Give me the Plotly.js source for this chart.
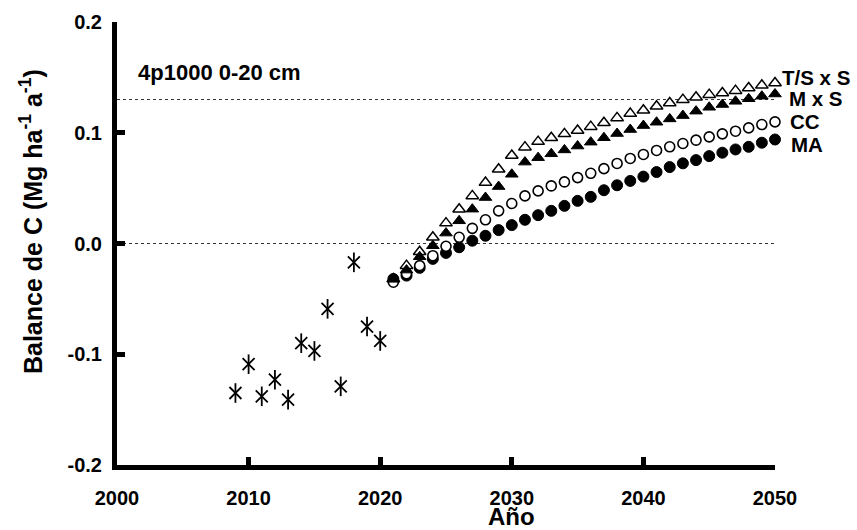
<!DOCTYPE html>
<html>
<head>
<meta charset="utf-8">
<script src="https://cdn.plot.ly/plotly-3.0.1.min.js"></script>
<style>
  html, body { margin: 0; padding: 0; background: #ffffff; }
  #chart { width: 857px; height: 530px; }
</style>
</head>
<body>
<div id="chart"></div>
<script>
// Observed carbon balance (Mg ha-1 a-1), 2009-2020
const obsYears = [2009, 2010, 2011, 2012, 2013, 2014, 2015, 2016, 2017, 2018, 2019, 2020];
const obsBalance = [-0.135, -0.109, -0.138, -0.123, -0.141, -0.090, -0.097, -0.059, -0.129, -0.017, -0.075, -0.088];

// Projection years
const projYears = [2021, 2022, 2023, 2024, 2025, 2026, 2027, 2028, 2029, 2030,
                   2031, 2032, 2033, 2034, 2035, 2036, 2037, 2038, 2039, 2040,
                   2041, 2042, 2043, 2044, 2045, 2046, 2047, 2048, 2049, 2050];

// Projected balance per management scenario
const tsXs = [-0.032, -0.020, -0.0074, 0.0056, 0.0184, 0.031, 0.043, 0.055, 0.067, 0.0795,
              0.087, 0.092, 0.0955, 0.099, 0.102, 0.1055, 0.109, 0.1134, 0.1173, 0.1203,
              0.1239, 0.1269, 0.1299, 0.132, 0.1344, 0.1359, 0.138, 0.1404, 0.1428, 0.1449];
const mXs = [-0.032, -0.024, -0.012, -0.002, 0.0094, 0.0205, 0.031, 0.0415, 0.0514, 0.0625,
             0.0735, 0.0775, 0.081, 0.0845, 0.088, 0.0915, 0.0955, 0.0993, 0.1029, 0.1065,
             0.1095, 0.1125, 0.1155, 0.1195, 0.123, 0.1255, 0.1284, 0.1307, 0.133, 0.135];
const cc = [-0.035, -0.0274, -0.020, -0.011, -0.0025, 0.0056, 0.0137, 0.0214, 0.0295, 0.0361,
            0.043, 0.0475, 0.052, 0.0556, 0.0595, 0.0634, 0.0676, 0.0723, 0.0768, 0.0804,
            0.084, 0.0873, 0.0903, 0.0933, 0.0963, 0.099, 0.1014, 0.1044, 0.1074, 0.1098];
const ma = [-0.032, -0.029, -0.022, -0.0139, -0.0085, -0.0034, 0.0025, 0.007, 0.0121, 0.0166,
            0.0214, 0.0256, 0.0295, 0.034, 0.0385, 0.0421, 0.0481, 0.0526, 0.0565, 0.0604,
            0.0645, 0.069, 0.0724, 0.0753, 0.0789, 0.082, 0.0849, 0.0873, 0.091, 0.0939];

const scenarioNames = ['T/S x S', 'M x S', 'CC', 'MA'];

// Reference levels
const target4p1000 = 0.13;
const targetLabel = '4p1000 0-20 cm';

const xTicks = [2000, 2010, 2020, 2030, 2040, 2050];
const yTicks = [-0.2, -0.1, 0.0, 0.1, 0.2];
const yTickText = ['-0.2', '-0.1', '0.0', '0.1', '0.2'];

// ---- layout geometry (pixels) ----
const W = 857, H = 530;
const M = { l: 117, r: 81.5, t: 22, b: 65 };
const plotW = W - M.l - M.r, plotH = H - M.t - M.b;
const px2paperX = px => (px - M.l) / plotW;
const px2paperY = py => 1 - (py - M.t) / plotH;

const FONT = 'Arial, "Liberation Sans", sans-serif';
const BLACK = '#000000';

const common = { mode: 'markers', type: 'scatter', cliponaxis: false, hoverinfo: 'skip', showlegend: false };

const traces = [
  // asterisk = diagonal cross + vertical bar
  Object.assign({}, common, {
    x: obsYears, y: obsBalance,
    marker: { symbol: 'x-thin-open', size: 12, color: BLACK, line: { color: BLACK, width: 1.8 } }
  }),
  Object.assign({}, common, {
    x: obsYears, y: obsBalance,
    marker: { symbol: 'line-ns-open', size: 14, color: BLACK, line: { color: BLACK, width: 1.8 } }
  }),
  Object.assign({}, common, {
    name: scenarioNames[3], x: projYears, y: ma,
    marker: { symbol: 'circle', size: 11, color: BLACK, line: { color: BLACK, width: 1 } }
  }),
  Object.assign({}, common, {
    name: scenarioNames[2], x: projYears, y: cc,
    marker: { symbol: 'circle', size: 10, color: '#ffffff', line: { color: BLACK, width: 1.6 } }
  }),
  Object.assign({}, common, {
    name: scenarioNames[0], x: projYears, y: tsXs,
    marker: { symbol: 'triangle-up', size: 11, color: '#ffffff', line: { color: BLACK, width: 1.5 } }
  }),
  Object.assign({}, common, {
    name: scenarioNames[1], x: projYears, y: mXs,
    marker: { symbol: 'triangle-up', size: 11, color: BLACK, line: { color: BLACK, width: 1 } }
  })
];

const boldFont = (size) => ({ family: FONT, size: size, color: BLACK, weight: 'bold' });

const axisCommon = {
  showline: true, linecolor: BLACK, linewidth: 5,
  ticks: 'inside', ticklen: 8, tickwidth: 5, tickcolor: BLACK,
  showgrid: false, zeroline: false, fixedrange: true,
  tickfont: boldFont(20)
};

// labels at the end of each projected series
const seriesLabelPos = [
  { x: 781, y: 77 },
  { x: 788, y: 99 },
  { x: 789, y: 122 },
  { x: 790, y: 144 }
];

const annotations = scenarioNames.map((name, i) => ({
  text: name, xref: 'paper', yref: 'paper',
  x: px2paperX(seriesLabelPos[i].x), y: px2paperY(seriesLabelPos[i].y),
  xanchor: 'left', yanchor: 'middle', showarrow: false, font: boldFont(20.5)
}));

annotations.push({
  text: targetLabel, xref: 'paper', yref: 'paper',
  x: px2paperX(136), y: px2paperY(72),
  xanchor: 'left', yanchor: 'middle', showarrow: false, font: boldFont(22)
});

// axis titles
annotations.push({
  text: 'Año', xref: 'paper', yref: 'paper',
  x: px2paperX(512), y: px2paperY(516),
  xanchor: 'center', yanchor: 'middle', showarrow: false, font: boldFont(24)
});
annotations.push({
  text: 'Balance de C (Mg ha<sup>-1</sup> a<sup>-1</sup>)', xref: 'paper', yref: 'paper',
  x: px2paperX(31), y: px2paperY(222), textangle: -90,
  xanchor: 'center', yanchor: 'middle', showarrow: false, font: boldFont(25)
});

const layout = {
  width: W, height: H,
  margin: M,
  paper_bgcolor: '#ffffff', plot_bgcolor: '#ffffff',
  xaxis: Object.assign({}, axisCommon, {
    range: [2000, 2050], tickvals: xTicks, ticktext: xTicks.map(String),
    ticklabelstandoff: 11
  }),
  yaxis: Object.assign({}, axisCommon, {
    range: [-0.2, 0.2], tickvals: yTicks, ticktext: yTickText,
    ticklabelstandoff: 6
  }),
  shapes: [
    { type: 'line', xref: 'x', yref: 'y', x0: 2000, x1: 2050, y0: 0, y1: 0,
      line: { color: '#333333', width: 1, dash: 'dot' }, layer: 'below' },
    { type: 'line', xref: 'x', yref: 'y', x0: 2000, x1: 2050, y0: target4p1000, y1: target4p1000,
      line: { color: '#333333', width: 1, dash: 'dot' }, layer: 'below' }
  ],
  annotations: annotations
};

Plotly.newPlot('chart', traces, layout, { displayModeBar: false, staticPlot: true });
</script>
</body>
</html>
